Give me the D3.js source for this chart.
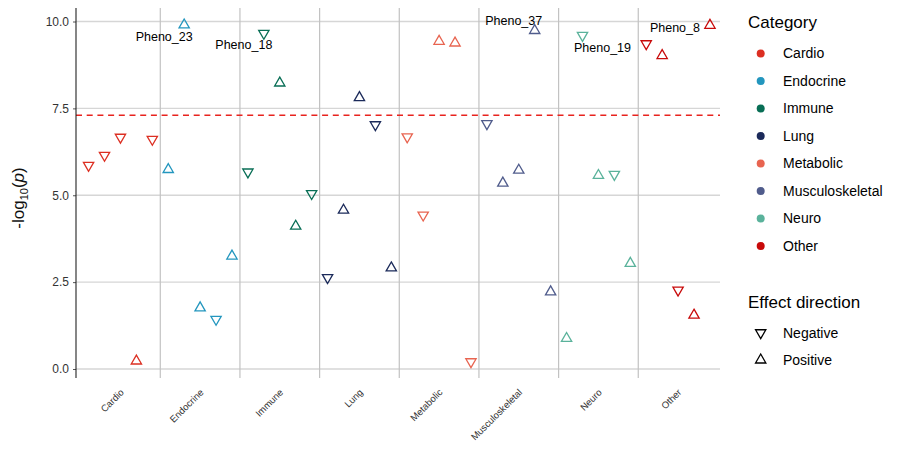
<!DOCTYPE html>
<html>
<head>
<meta charset="utf-8">
<script src="https://cdn.jsdelivr.net/npm/d3@7"></script>
<style>
  body { margin: 0; background: #fff; }
  svg { font-family: "Liberation Sans", Arial, sans-serif; }
</style>
</head>
<body>
<div id="chart"></div>
<script>
// Categories and their colours
const categories = ['Cardio', 'Endocrine', 'Immune', 'Lung', 'Metabolic', 'Musculoskeletal', 'Neuro', 'Other'];
const categoryColors = ['#DC2F22', '#2396BE', '#086E55', '#1B2A5A', '#E86450', '#505C8C', '#5AB29B', '#C80A0A'];

// One entry per phenotype, in plotting order
const pointCategory = [
  'Cardio', 'Cardio', 'Cardio', 'Cardio', 'Cardio',
  'Endocrine', 'Endocrine', 'Endocrine', 'Endocrine', 'Endocrine',
  'Immune', 'Immune', 'Immune', 'Immune', 'Immune',
  'Lung', 'Lung', 'Lung', 'Lung', 'Lung',
  'Metabolic', 'Metabolic', 'Metabolic', 'Metabolic', 'Metabolic',
  'Musculoskeletal', 'Musculoskeletal', 'Musculoskeletal', 'Musculoskeletal', 'Musculoskeletal',
  'Neuro', 'Neuro', 'Neuro', 'Neuro', 'Neuro',
  'Other', 'Other', 'Other', 'Other', 'Other'
];
const logP = [
  5.86, 6.15, 6.67, 0.23, 6.61,
  5.74, 9.90, 1.76, 1.43, 3.25,
  5.67, 9.66, 8.23, 4.11, 5.05,
  2.63, 4.57, 7.81, 7.03, 2.91,
  6.68, 4.43, 9.43, 9.38, 0.21,
  7.06, 5.35, 5.72, 9.74, 2.22,
  0.88, 9.60, 5.57, 5.60, 3.04,
  9.36, 9.02, 2.27, 1.55, 9.89
];
const direction = [
  'Negative', 'Negative', 'Negative', 'Positive', 'Negative',
  'Positive', 'Positive', 'Positive', 'Negative', 'Positive',
  'Negative', 'Negative', 'Positive', 'Positive', 'Negative',
  'Negative', 'Positive', 'Positive', 'Negative', 'Positive',
  'Negative', 'Negative', 'Positive', 'Positive', 'Negative',
  'Negative', 'Positive', 'Positive', 'Positive', 'Positive',
  'Positive', 'Negative', 'Positive', 'Negative', 'Positive',
  'Negative', 'Positive', 'Negative', 'Positive', 'Positive'
];

// Labelled top hits (1-based position) and their names
const labelIndex = [7, 12, 29, 32, 40];
const labelNames = ['Pheno_23', 'Pheno_18', 'Pheno_37', 'Pheno_19', 'Pheno_8'];

const yTicks = [0, 2.5, 5, 7.5, 10];
const threshold = -Math.log10(5e-8);
const directions = ['Negative', 'Positive'];

const width = 900;
const height = 450;
const panel = { left: 76, right: 720, top: 8, bottom: 378 };

// label placement offsets in px (repel-style), same order as labelIndex
const labelOffsets = [[-20, 12], [-20, 11], [-21, -10], [20, 12], [-35, 2]];

const data = logP.map((v, i) => ({
  idx: i + 1,
  category: pointCategory[i],
  value: v,
  dir: direction[i]
}));

const xScale = d3.scaleLinear()
  .domain([0.21, 40.63])
  .range([panel.left, panel.right]);

const yScale = d3.scaleLinear()
  .domain([0, 10])
  .range([369, 21.5]);

const color = d3.scaleOrdinal()
  .domain(categories)
  .range(categoryColors);

const svg = d3.select('#chart')
  .append('svg')
  .attr('width', width)
  .attr('height', height);

// Horizontal grid
svg.append('g')
  .selectAll('line')
  .data(yTicks)
  .join('line')
  .attr('x1', panel.left)
  .attr('x2', panel.right)
  .attr('y1', d => yScale(d))
  .attr('y2', d => yScale(d))
  .attr('stroke', '#d6d6d6')
  .attr('stroke-width', 1.3);

// Category separators
const boundaries = categories.slice(1).map(c => pointCategory.indexOf(c) + 0.5);
svg.append('g')
  .selectAll('line')
  .data(boundaries)
  .join('line')
  .attr('x1', d => xScale(d))
  .attr('x2', d => xScale(d))
  .attr('y1', panel.top)
  .attr('y2', panel.bottom)
  .attr('stroke', '#c2c2c2')
  .attr('stroke-width', 1.2);

// Genome-wide threshold
svg.append('line')
  .attr('x1', panel.left)
  .attr('x2', panel.right)
  .attr('y1', yScale(threshold))
  .attr('y2', yScale(threshold))
  .attr('stroke', '#E8231E')
  .attr('stroke-width', 1.5)
  .attr('stroke-dasharray', '6,4.7');

// Y axis
const yAxis = d3.axisLeft(yScale)
  .tickValues(yTicks)
  .tickFormat(d3.format('.1f'))
  .tickSize(3)
  .tickPadding(4);

const yg = svg.append('g')
  .attr('transform', `translate(${panel.left}, 0)`)
  .call(yAxis);
yg.select('.domain').remove();
yg.selectAll('.tick line').attr('stroke', '#555');
yg.selectAll('.tick text')
  .attr('fill', '#333')
  .style('font-size', '12px')
  .style('font-family', '"Liberation Sans", Arial, sans-serif');

svg.append('line')
  .attr('x1', panel.left)
  .attr('x2', panel.left)
  .attr('y1', panel.top)
  .attr('y2', panel.bottom)
  .attr('stroke', '#222')
  .attr('stroke-width', 1.1);

// X category labels (centre of each block)
const catCentres = categories.map(c => {
  const idx = data.filter(d => d.category === c).map(d => d.idx);
  return { category: c, x: xScale(d3.mean(idx)) };
});

svg.append('g')
  .selectAll('text')
  .data(catCentres)
  .join('text')
  .attr('transform', d => `translate(${d.x + 4}, 393) rotate(-45)`)
  .attr('text-anchor', 'end')
  .attr('fill', '#333')
  .style('font-size', '9.5px')
  .text(d => d.category);

// Y label: -log10(p)
const ylab = svg.append('text')
  .attr('transform', 'translate(24, 198) rotate(-90)')
  .attr('text-anchor', 'middle')
  .attr('fill', '#111')
  .style('font-size', '17px');
ylab.append('tspan').text('-log');
ylab.append('tspan').attr('dy', 4).style('font-size', '11px').text('10');
ylab.append('tspan').attr('dy', -4).text('(');
ylab.append('tspan').style('font-style', 'italic').text('p');
ylab.append('tspan').text(')');

// Points
const tri = d3.symbol(d3.symbolTriangle, 46);

svg.append('g')
  .selectAll('path')
  .data(data)
  .join('path')
  .attr('d', tri)
  .attr('transform', d => `translate(${xScale(d.idx)}, ${yScale(d.value)})` + (d.dir === 'Negative' ? ' rotate(180)' : ''))
  .attr('fill', 'none')
  .attr('stroke', d => color(d.category))
  .attr('stroke-width', 1.3);

// Hit labels
svg.append('g')
  .selectAll('text')
  .data(labelIndex)
  .join('text')
  .attr('x', (d, i) => xScale(d) + labelOffsets[i][0])
  .attr('y', (d, i) => yScale(logP[d - 1]) + labelOffsets[i][1])
  .attr('dy', '0.35em')
  .attr('text-anchor', 'middle')
  .attr('fill', '#000')
  .style('font-size', '12.5px')
  .text((d, i) => labelNames[i]);

// Legend: category
const legend = svg.append('g').attr('transform', 'translate(748, 0)');

legend.append('text')
  .attr('x', 0)
  .attr('y', 28)
  .style('font-size', '17px')
  .attr('fill', '#000')
  .text('Category');

const catItems = legend.selectAll('.cat-item')
  .data(categories)
  .join('g')
  .attr('class', 'cat-item')
  .attr('transform', (d, i) => `translate(0, ${53.5 + i * 27.5})`);

catItems.append('circle')
  .attr('cx', 12.7)
  .attr('r', 4)
  .attr('fill', d => color(d));

catItems.append('text')
  .attr('x', 35)
  .attr('dy', '0.35em')
  .style('font-size', '14px')
  .attr('fill', '#000')
  .text(d => d);

// Legend: effect direction
legend.append('text')
  .attr('x', 0)
  .attr('y', 308)
  .style('font-size', '17px')
  .attr('fill', '#000')
  .text('Effect direction');

const dirItems = legend.selectAll('.dir-item')
  .data(directions)
  .join('g')
  .attr('class', 'dir-item')
  .attr('transform', (d, i) => `translate(0, ${332.7 + i * 27.3})`);

dirItems.append('path')
  .attr('d', tri)
  .attr('transform', d => 'translate(12.7, 0)' + (d === 'Negative' ? ' rotate(180)' : ''))
  .attr('fill', 'none')
  .attr('stroke', '#000')
  .attr('stroke-width', 1.3);

dirItems.append('text')
  .attr('x', 35)
  .attr('dy', '0.35em')
  .style('font-size', '14px')
  .attr('fill', '#000')
  .text(d => d);
</script>
</body>
</html>
